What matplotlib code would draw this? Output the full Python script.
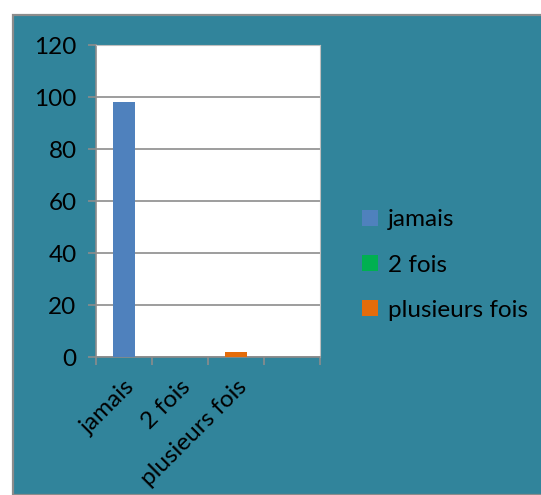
import matplotlib.pyplot as plt
from matplotlib.patches import Rectangle, Patch

# data
categories = ["jamais", "2 fois", "plusieurs fois", ""]
values = [98, 0, 2, 0]
series_names = ["jamais", "2 fois", "plusieurs fois"]
series_colors = ["#4F81BD", "#00B050", "#E46C0A"]
y_ticks = [0, 20, 40, 60, 80, 100, 120]

plt.rcParams["font.family"] = ["Lato", "DejaVu Sans"]

W, H = 541, 495
fig = plt.figure(figsize=(W / 100, H / 100), dpi=100)
fig.patch.set_facecolor("white")

# teal chart frame
fig.patches.append(Rectangle((12.5 / W, 0), 1, 1 - 14.5 / H, transform=fig.transFigure,
                             facecolor="#31849B", edgecolor="#8C8C8C", linewidth=1.6, zorder=-5))

ax = fig.add_axes([96 / W, 1 - 357 / H, (320 - 96) / W, (357 - 45) / H])
ax.set_zorder(2)
ax.set_facecolor("white")

bar_colors = series_colors + ["#ffffff"]
x = list(range(len(categories)))
ax.bar(x, values, width=0.4, color=bar_colors, zorder=3)

ax.set_xlim(-0.5, len(categories) - 0.5)
ax.set_ylim(0, 120)
ax.set_yticks(y_ticks)
ax.set_yticklabels([str(v) for v in y_ticks], fontsize=17.5)
ax.grid(axis="y", color="#8C8C8C", linewidth=1.2, zorder=1)

# boundary ticks on x, labels at centres
ax.set_xticks([i - 0.5 for i in range(len(categories) + 1)])
ax.set_xticklabels([])
ax.set_xticks(x[:3], minor=True)
ax.set_xticklabels(categories[:3], minor=True, rotation=45, ha="right",
                   rotation_mode="anchor", fontsize=17.5)
ax.tick_params(axis="x", which="minor", length=0, pad=14)
ax.tick_params(axis="x", which="major", length=6, color="#8C8C8C", width=1.2)
ax.tick_params(axis="y", length=6, color="#8C8C8C", width=1.2, pad=8)

for side in ["left", "bottom"]:
    ax.spines[side].set_color("#8C8C8C")
    ax.spines[side].set_linewidth(1.2)
for side in ["top", "right"]:
    ax.spines[side].set_color("#BFBFBF")
    ax.spines[side].set_linewidth(0.8)

handles = [Patch(facecolor=c, edgecolor="none") for c in series_colors]
leg = fig.legend(handles, series_names, loc="center left",
                 bbox_to_anchor=(362 / W, 1 - 265 / H), frameon=False,
                 fontsize=17.5, handlelength=0.65, handleheight=0.65,
                 handletextpad=0.4, labelspacing=1.0, borderpad=0, borderaxespad=0)

fig.savefig("out.png", dpi=100)
